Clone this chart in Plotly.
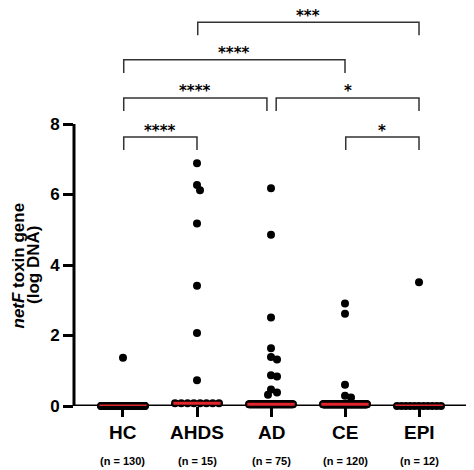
import numpy as np
import plotly.graph_objects as go

# ---------------- data ----------------
categories = ["HC", "AHDS", "AD", "CE", "EPI"]
n_labels = ["(n = 130)", "(n = 15)", "(n = 75)", "(n = 120)", "(n = 12)"]

hc_values = [1.37] + [0.0] * 129
ahds_values = [6.89, 6.27, 6.12, 5.18, 3.41, 2.07, 0.73] + [0.08] * 8
ad_values = [6.18, 4.86, 2.51, 1.64, 1.39, 1.32, 0.87, 0.84, 0.47, 0.38, 0.32] + [0.05] * 64
ce_values = [2.91, 2.62, 0.60, 0.29, 0.24] + [0.05] * 115
epi_values = [3.51] + [0.0] * 11

group_values = [hc_values, ahds_values, ad_values, ce_values, epi_values]

bracket_pairs = [(0, 1), (3, 4), (0, 2), (2, 4), (0, 3), (1, 4)]
bracket_heights = [7.63, 7.63, 8.74, 8.74, 9.82, 10.89]
bracket_labels = ["****", "*", "****", "*", "****", "***"]

y_ticks = [0, 2, 4, 6, 8]

# ---------------- layout geometry ----------------
OFF = 8                      # page body margin
W, H = 474 - OFF, 470 - OFF
L, R, T, B = 74 - OFF, 6, 0, 64
PX_PER_Y = 35.25
X_RANGE = [-0.662, 4.662]
Y_RANGE = [0, (H - T - B) / PX_PER_Y]
px_x = (W - L - R) / (X_RANGE[1] - X_RANGE[0])
px_y = (H - T - B) / (Y_RANGE[1] - Y_RANGE[0])
PLOT_H = H - T - B


def paper_y(win_y):
    return -((win_y - OFF) - (H - B)) / PLOT_H


def paper_x(win_x):
    return ((win_x - OFF) - L) / (W - L - R)


DOT = 8
BAND_HALF = 22  # px half-width of the zero band
BAND_CUT = 0.15


def swarm_offsets(vals):
    """Deterministic bee-swarm layout (offsets in data units)."""
    vals = np.asarray(vals, dtype=float)
    offs = np.zeros(len(vals))
    band = np.where(vals < BAND_CUT)[0]
    if len(band) > 1:
        offs[band] = np.linspace(-BAND_HALF, BAND_HALF, len(band)) / px_x
    rest = [i for i in np.argsort(-vals) if vals[i] >= BAND_CUT]
    placed = []
    d = DOT - 2
    for i in rest:
        yi = vals[i] * px_y
        cand = 0
        for k in range(0, 40):
            cand = 0 if k == 0 else ((k + 1) // 2) * (1 if k % 2 else -1) * 1.5
            if all((cand - cx) ** 2 + (yi - cy) ** 2 >= d * d for cx, cy in placed):
                break
        placed.append((cand, yi))
        offs[i] = cand / px_x
    return offs


fig = go.Figure()

# axis lines as shapes (y axis stops at 8)
fig.add_shape(type="line", xref="paper", yref="y", x0=0, x1=0, y0=0, y1=8,
              line=dict(color="black", width=3), layer="below")
fig.add_shape(type="line", xref="paper", yref="y", x0=0, x1=1, y0=0, y1=0,
              line=dict(color="black", width=3), layer="below")

for gi, vals in enumerate(group_values):
    offs = swarm_offsets(vals)
    fig.add_trace(go.Scatter(
        x=gi + offs, y=vals, mode="markers", cliponaxis=False,
        marker=dict(size=DOT, color="black", line=dict(width=0)),
        showlegend=False, hoverinfo="skip"))

for gi, vals in enumerate(group_values):
    med = float(np.median(vals))
    fig.add_trace(go.Scatter(
        x=[gi - 0.32, gi + 0.32], y=[med, med], mode="lines", cliponaxis=False,
        line=dict(color="#e0252b", width=3), showlegend=False, hoverinfo="skip"))

# significance brackets
drop = 0.37
insets = {(0, 2): (0.01, 0.055), (2, 4): (0.07, 0.0)}
for (a, b), h, lab in zip(bracket_pairs, bracket_heights, bracket_labels):
    ia, ib = insets.get((a, b), (0.01, 0.0))
    xa, xb = a + ia, b - ib
    fig.add_trace(go.Scatter(
        x=[xa, xa, xb, xb], y=[h - drop, h, h, h - drop], mode="lines",
        cliponaxis=False, line=dict(color="#333333", width=1.5),
        showlegend=False, hoverinfo="skip"))
    fig.add_annotation(x=(xa + xb) / 2, y=h, xref="x", yref="y", text=f"<b>{lab}</b>",
                       showarrow=False, yanchor="middle", yshift=6.5,
                       font=dict(family="DejaVu Sans", size=15, color="black"))

# category labels and n labels
for gi, (c, n) in enumerate(zip(categories, n_labels)):
    fig.add_annotation(x=gi, y=paper_y(432.7), xref="x", yref="paper",
                       text=f"<b>{c}</b>", showarrow=False, yanchor="middle",
                       font=dict(family="Liberation Sans, Arial", size=19, color="black"))
    fig.add_annotation(x=gi, y=paper_y(461), xref="x", yref="paper",
                       text=f"<b>{n}</b>", showarrow=False, yanchor="middle",
                       font=dict(family="Liberation Sans, Arial", size=11, color="black"))

# y-axis title (two lines)
y_mid = 4.0
fig.add_annotation(x=paper_x(17.5), y=y_mid, xref="paper", yref="y",
                   text="<b><i>netF</i> toxin gene</b>", textangle=-90, showarrow=False,
                   xanchor="center", yanchor="middle",
                   font=dict(family="Liberation Sans, Arial", size=17, color="black"))
fig.add_annotation(x=paper_x(33), y=y_mid, xref="paper", yref="y",
                   text="<b>(log DNA)</b>", textangle=-90, showarrow=False,
                   xanchor="center", yanchor="middle",
                   font=dict(family="Liberation Sans, Arial", size=17, color="black"))

fig.update_layout(
    width=W, height=H, margin=dict(l=L, r=R, t=T, b=B),
    plot_bgcolor="white", paper_bgcolor="white",
    xaxis=dict(range=X_RANGE, tickvals=list(range(len(categories))), showticklabels=False,
               ticks="outside", ticklen=10, tickwidth=3, tickcolor="black",
               showgrid=False, zeroline=False, showline=False, fixedrange=True),
    yaxis=dict(range=Y_RANGE, tickvals=y_ticks, ticktext=[f"<b>{t}</b>" for t in y_ticks],
               ticks="outside", ticklen=10, tickwidth=3, tickcolor="black",
               tickfont=dict(family="Liberation Sans, Arial", size=17, color="black"),
               showgrid=False, zeroline=False, showline=False, fixedrange=True),
)

fig.write_html("out.html")
